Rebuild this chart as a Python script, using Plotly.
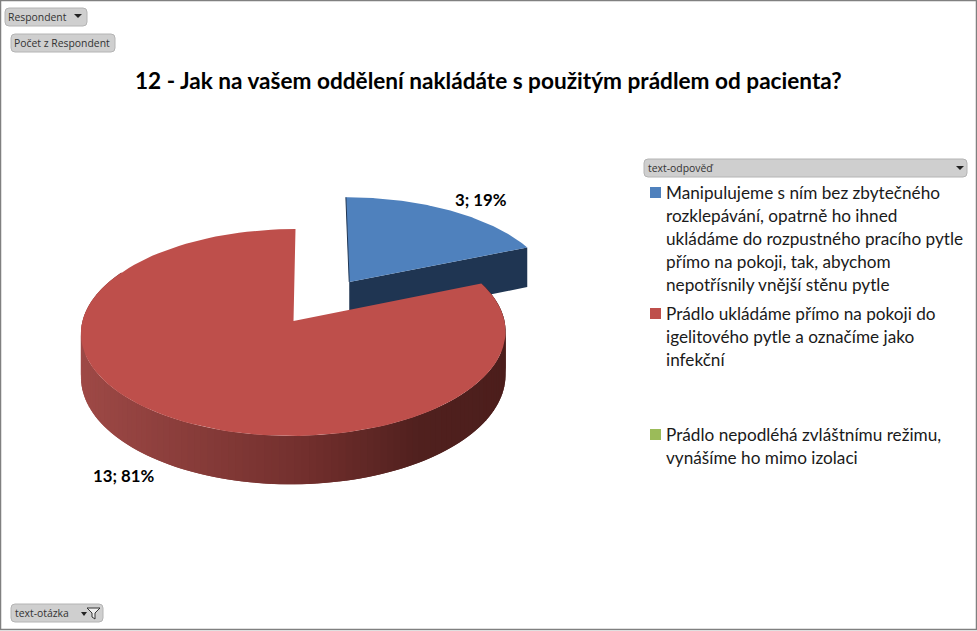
import numpy as np
import plotly.graph_objects as go

# Data
title = "12 - Jak na vašem oddělení nakládáte s použitým prádlem od pacienta?"
values = [3, 13, 0]
colors = ["#4F81BD", "#BE4F4B", "#9BBB59"]
side_blue = "#1F3552"
legend_lines = [
    ["Manipulujeme s ním bez zbytečného", "rozklepávání, opatrně ho ihned",
     "ukládáme do rozpustného pracího pytle", "přímo na pokoji, tak, abychom",
     "nepotřísnily vnější stěnu pytle"],
    ["Prádlo ukládáme přímo na pokoji do", "igelitového pytle a označíme jako", "infekční"],
    ["Prádlo nepodléhá zvláštnímu režimu,", "vynášíme ho mimo izolaci"],
]
legend_y = [[192, 215, 238, 261, 284], [313, 336, 359], [434, 457]]
label_pos = [(481, 199), (124, 475)]

# Pie geometry, in pixels of the 977x631 page
cx, cy = 293.5, 321
rx, ry = 211, 102.2
persp = 0.111
skew = -20  # vanishing point sits a little right of the pie centre
depth = 43
pull = 0.48


def project(u, v, drop=0, nudge=0):
    w = 1 - persp * v
    return cx - skew + (skew + rx * u) / w + nudge, cy + ry * v / w + drop / w


def wedge(start, sweep, offset=0.0, n=120):
    # angles in degrees, clockwise from the top
    mid = np.radians(start + sweep / 2)
    u0, v0 = offset * np.sin(mid), -offset * np.cos(mid)
    a = np.radians(np.linspace(start, start + sweep, n))
    u = np.concatenate([[u0], u0 + np.sin(a), [u0]])
    v = np.concatenate([[v0], v0 - np.cos(a), [v0]])
    return u, v


def mix(t):
    # side wall shading, left to right
    stops = [(0.0, (158, 73, 70)), (0.55, (112, 46, 44)), (0.8, (80, 32, 30)), (1.0, (76, 30, 28))]
    for (t0, c0), (t1, c1) in zip(stops, stops[1:]):
        if t <= t1:
            f = (t - t0) / (t1 - t0)
            return "rgb(%d,%d,%d)" % tuple(round(a + (b - a) * f) for a, b in zip(c0, c1))
    return "rgb(76,30,28)"


def poly(x, y, color):
    return go.Scatter(x=list(x), y=list(y), mode="lines", fill="toself", fillcolor=color,
                      line=dict(color=color, width=0), hoverinfo="skip", showlegend=False)


def button(x0, y0, x1, y1, fill="#CFCFCF", r=4):
    path = (f"M{x0+r},{y0} L{x1-r},{y0} Q{x1},{y0} {x1},{y0+r} L{x1},{y1-r} Q{x1},{y1} {x1-r},{y1} "
            f"L{x0+r},{y1} Q{x0},{y1} {x0},{y1-r} L{x0},{y0+r} Q{x0},{y0} {x0+r},{y0} Z")
    return dict(type="path", path=path, xref="x", yref="y", fillcolor=fill,
                line=dict(color="#B4B4B4", width=1), layer="below")


def arrow(x, y, s=4):
    return dict(type="path", path=f"M{x-s},{y-2} L{x+s},{y-2} L{x},{y+2} Z", xref="x", yref="y",
                fillcolor="#222222", line=dict(width=0))


total = sum(values)
sweep_blue = values[0] / total * 360
sweep_red = values[1] / total * 360

fig = go.Figure()

# Blue slice, pulled out
ub, vb = wedge(0, sweep_blue, pull)
mid = np.radians(sweep_blue / 2)
u0, v0 = pull * np.sin(mid), -pull * np.cos(mid)
u1, v1 = u0 + np.sin(np.radians(sweep_blue)), v0 - np.cos(np.radians(sweep_blue))
p = [project(u0, v0, nudge=1), project(u1, v1, nudge=1),
     project(u1, v1, depth, nudge=1), project(u0, v0, depth, nudge=1)]
fig.add_trace(poly([q[0] for q in p], [q[1] for q in p], side_blue))
xb, yb = project(ub, vb, nudge=1)
fig.add_trace(poly(xb, yb, colors[0]))
xe, ye = project(np.array([u0, u0]), np.array([v0, v0 - 1]), nudge=1)
fig.add_trace(go.Scatter(x=xe, y=ye, mode="lines", line=dict(color=side_blue, width=1),
                         hoverinfo="skip", showlegend=False))

# Red slice: side wall as overlapping strips so it can be shaded without seams
a = np.radians(np.linspace(sweep_blue, 300, 130))
ua, va = np.sin(a), -np.cos(a)
xt, yt = project(ua, va)
xd, yd = project(ua, va, depth)
xmin, xmax = xt.min(), xt.max()
for i in range(len(a) - 1):
    j = min(i + 2, len(a) - 1)
    t = ((xt[i] + xt[i + 1]) / 2 - xmin) / (xmax - xmin)
    fig.add_trace(poly([xt[i], xt[i + 1], xt[j], xd[j], xd[i + 1], xd[i]],
                       [yt[i], yt[i + 1], yt[j], yd[j], yd[i + 1], yd[i]], mix(t)))

ur, vr = wedge(sweep_blue, sweep_red)
xr, yr = project(ur, vr)
fig.add_trace(poly(xr, yr, colors[1]))

shapes = [
    dict(type="rect", x0=0.5, y0=0.5, x1=976.5, y1=629.5, xref="x", yref="y",
         line=dict(color="#808080", width=1.5), layer="below"),
    button(5, 8, 87, 26), arrow(78, 16),
    button(11, 34, 115, 52),
    button(644, 159, 967, 177), arrow(960, 168),
    button(11, 604, 103, 622), arrow(84, 614, 3),
    dict(type="path", path="M87,608 L100,608 L95,613 L95,619 L92,617 L92,613 Z", xref="x", yref="y",
         fillcolor="#EEEEEE", line=dict(color="#333333", width=1)),
]

ui_font = dict(family="Open Sans", size=10.4, color="#333333")
annotations = [
    dict(x=488, y=80, text=f"<b>{title}</b>", font=dict(family="Lato", size=22.6, color="black")),
    dict(x=8, y=17, text="Respondent", xanchor="left", font=ui_font),
    dict(x=14, y=43, text="Počet z Respondent", xanchor="left", font=ui_font),
    dict(x=648, y=168, text="text-odpověď", xanchor="left", font=ui_font),
    dict(x=15, y=613, text="text-otázka", xanchor="left", font=ui_font),
]

for v, (lx, ly) in zip(values, label_pos):
    annotations.append(dict(x=lx, y=ly, text=f"<b>{v}; {round(v / total * 100)}%</b>",
                            font=dict(family="Lato", size=16.8, color="black")))

for lines, ys, color in zip(legend_lines, legend_y, colors):
    shapes.append(dict(type="rect", x0=650, x1=661, y0=ys[0] - 5, y1=ys[0] + 6, xref="x", yref="y",
                       fillcolor=color, line=dict(width=0)))
    for line, y in zip(lines, ys):
        annotations.append(dict(x=666, y=y, text=line, xanchor="left",
                                font=dict(family="Lato", size=17.2, color="#1A1A1A")))

for ann in annotations:
    ann.update(xref="x", yref="y", showarrow=False, xshift=-2 if ann.get("xanchor") == "left" else 0)

fig.update_xaxes(range=[0, 977], visible=False, fixedrange=True)
fig.update_yaxes(range=[631, 0], visible=False, fixedrange=True)
fig.update_layout(width=977, height=631, margin=dict(l=0, r=0, t=0, b=0), showlegend=False,
                  paper_bgcolor="white", plot_bgcolor="white", shapes=shapes, annotations=annotations)

fig.write_html("out.html", config={"displayModeBar": False}, post_script="document.body.style.margin = '0';")
